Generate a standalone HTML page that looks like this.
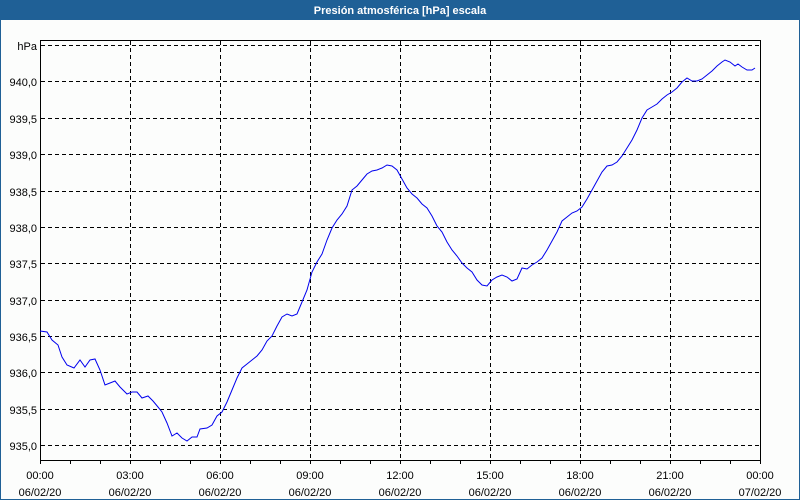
<!DOCTYPE html>
<html><head><meta charset="utf-8"><style>
body{margin:0;width:800px;height:500px;overflow:hidden;background:#fcfdfc}
svg{display:block}
text{font-family:"Liberation Sans",sans-serif;font-size:11px;fill:#000}
</style></head><body>
<svg width="800" height="500" viewBox="0 0 800 500">
<rect x="0" y="0" width="800" height="500" fill="#fcfdfc"/>
<rect x="0.5" y="0.5" width="799" height="499" fill="none" stroke="#1f6096" stroke-width="1"/>
<rect x="0" y="0" width="800" height="20" fill="#1f6096"/>
<text x="400" y="14" text-anchor="middle" style="fill:#fff;font-weight:bold;font-size:11px">Presión atmosférica [hPa] escala</text>
<g stroke="#000" stroke-width="1" stroke-dasharray="4,3" fill="none">
<line x1="41" x2="760" y1="45.5" y2="45.5"/>
<line x1="41" x2="760" y1="81.5" y2="81.5"/>
<line x1="41" x2="760" y1="118.5" y2="118.5"/>
<line x1="41" x2="760" y1="154.5" y2="154.5"/>
<line x1="41" x2="760" y1="191.5" y2="191.5"/>
<line x1="41" x2="760" y1="227.5" y2="227.5"/>
<line x1="41" x2="760" y1="263.5" y2="263.5"/>
<line x1="41" x2="760" y1="300.5" y2="300.5"/>
<line x1="41" x2="760" y1="336.5" y2="336.5"/>
<line x1="41" x2="760" y1="372.5" y2="372.5"/>
<line x1="41" x2="760" y1="409.5" y2="409.5"/>
<line x1="41" x2="760" y1="445.5" y2="445.5"/>
<line x1="130.5" x2="130.5" y1="41" y2="460"/>
<line x1="220.5" x2="220.5" y1="41" y2="460"/>
<line x1="310.5" x2="310.5" y1="41" y2="460"/>
<line x1="400.5" x2="400.5" y1="41" y2="460"/>
<line x1="490.5" x2="490.5" y1="41" y2="460"/>
<line x1="580.5" x2="580.5" y1="41" y2="460"/>
<line x1="670.5" x2="670.5" y1="41" y2="460"/>
</g>
<rect x="40.5" y="40.5" width="720" height="420" fill="none" stroke="#000" stroke-width="1"/>
<g stroke="#000" stroke-width="1" id="ticks"></g>
<g stroke="#000">
<path d="M40.5 461v3M70.5 461v3M100.5 461v3M130.5 461v3M160.5 461v3M190.5 461v3M220.5 461v3M250.5 461v3M280.5 461v3M310.5 461v3M340.5 461v3M370.5 461v3M400.5 461v3M430.5 461v3M460.5 461v3M490.5 461v3M520.5 461v3M550.5 461v3M580.5 461v3M610.5 461v3M640.5 461v3M670.5 461v3M700.5 461v3M730.5 461v3M760.5 461v3"/>
</g>
<g text-anchor="end">
<text x="37" y="50">hPa</text>
<text x="37" y="86">940,0</text>
<text x="37" y="123">939,5</text>
<text x="37" y="159">939,0</text>
<text x="37" y="196">938,5</text>
<text x="37" y="232">938,0</text>
<text x="37" y="268">937,5</text>
<text x="37" y="305">937,0</text>
<text x="37" y="341">936,5</text>
<text x="37" y="377">936,0</text>
<text x="37" y="414">935,5</text>
<text x="37" y="450">935,0</text>
</g>
<g text-anchor="middle">
<text x="40" y="479">00:00</text><text x="40" y="496">06/02/20</text>
<text x="130" y="479">03:00</text><text x="130" y="496">06/02/20</text>
<text x="220" y="479">06:00</text><text x="220" y="496">06/02/20</text>
<text x="310" y="479">09:00</text><text x="310" y="496">06/02/20</text>
<text x="400" y="479">12:00</text><text x="400" y="496">06/02/20</text>
<text x="490" y="479">15:00</text><text x="490" y="496">06/02/20</text>
<text x="580" y="479">18:00</text><text x="580" y="496">06/02/20</text>
<text x="670" y="479">21:00</text><text x="670" y="496">06/02/20</text>
<text x="760" y="479">00:00</text><text x="760" y="496">07/02/20</text>
</g>
<polyline fill="none" stroke="#0000ee" stroke-width="1" points="40,331 47,332 52,340 58,345 62,357 67,365 74,368 80,360 85,367 90,360 95,359 100,370 105,385 110,383 115,381 120,387 127,394 132,392 137,392 142,398 148,396 153,401 158,407 162,412 167,423 172,436 177,433 182,438 187,441 192,437 197,437 200,429 207,428 212,425 217,416 222,412 227,402 232,390 237,378 242,368 247,364 252,360 257,356 262,350 267,341 272,336 277,326 282,317 287,314 292,316 297,314 302,302 307,290 312,272 317,262 322,254 327,240 332,228 337,220 342,214 347,206 352,190 357,186 362,180 367,174 372,171 377,170 382,168 387,165 392,166 397,170 402,179 407,188 412,194 417,198 422,204 427,208 432,216 437,226 442,232 447,242 452,250 457,256 462,263 467,268 472,272 477,280 482,285 487,286 492,280 497,277 502,275 507,277 512,281 517,279 522,268 527,269 532,265 537,262 542,258 547,250 552,241 557,232 562,221 567,217 572,213 577,211 582,207 587,199 592,190 597,181 602,172 607,166 612,165 617,162 622,156 627,148 632,140 637,130 642,118 647,110 652,107 657,104 662,99 667,95 672,92 677,88 682,82 687,78 692,81 697,81 702,79 707,75 712,71 717,66 722,62 725,60 730,62 735,66 738,64 742,67 747,70 752,70 755,68"/>
</svg>
</body></html>
